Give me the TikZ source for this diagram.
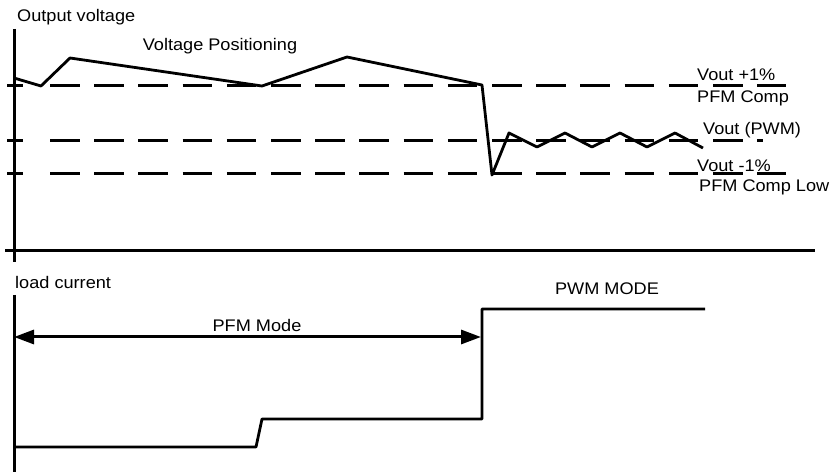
\documentclass[tikz,border=0pt]{standalone}
\usepackage{fontspec}
\setmainfont[FakeStretch=1.08]{Liberation Sans}
\usetikzlibrary{arrows.meta}

\begin{document}
\begin{tikzpicture}[x=1bp,y=-1bp,line join=round,>={Triangle[length=20bp,width=14bp]}]
	\tikzset{every node/.style={font=\fontsize{16.8bp}{19bp}\selectfont,inner sep=0pt},
		axis/.style={line width=3bp},
		lvl/.style={line width=3bp,dash pattern=on 29.5bp off 14.7bp},
		wave/.style={line width=2.8bp}}
	\useasboundingbox (0,0) rectangle (830,472);
	% axes
	\draw[axis] (14,29)--(14,262);
	\draw[axis] (5,251)--(815,251);
	\draw[axis] (14,295)--(14,472);
	\node[anchor=west] (vaxis) at (17,17) {Output voltage};
	\node[anchor=west] (iaxis) at (15,282) {load current};
	% threshold levels
	\foreach \y/\e in {86/786,141/763,174/786}{
		\draw[axis] (7,\y)--(23,\y);
		\draw[lvl] (50,\y)--(\e,\y);
	}
	\node[anchor=west] (hi) at (697,75) {Vout +1\%};
	\node[anchor=west] (hicomp) at (697,98) {PFM Comp};
	\node[anchor=west] (mid) at (703,130) {Vout (PWM)};
	\node[anchor=west] (lo) at (697,166) {Vout -1\%};
	\node[anchor=west] (locomp) at (699,187) {PFM Comp Low};
	% output voltage
	\draw[wave] (14,78)--(41,86)--(70,58)--(262,86)--(347,57)--(482,85)--(492,175)
		--(509,133)--(537,147)--(565,133)--(592,147)--(620,133)--(647,147)--(675,133)--(703,148);
	\node (vpos) at (220,46) {Voltage Positioning};
	% load current
	\draw[wave] (14,447)--(256,447)--(262,419)--(482,419)--(482,309)--(705,309);
	\node (pwm) at (607,289) {PWM MODE};
	\coordinate (pfmL) at (14,337);
	\coordinate (pfmR) at (481,337);
	\draw[<->,axis] (pfmL)--(pfmR);
	\node (pfm) at (257,325) {PFM Mode};
\end{tikzpicture}
\end{document}
